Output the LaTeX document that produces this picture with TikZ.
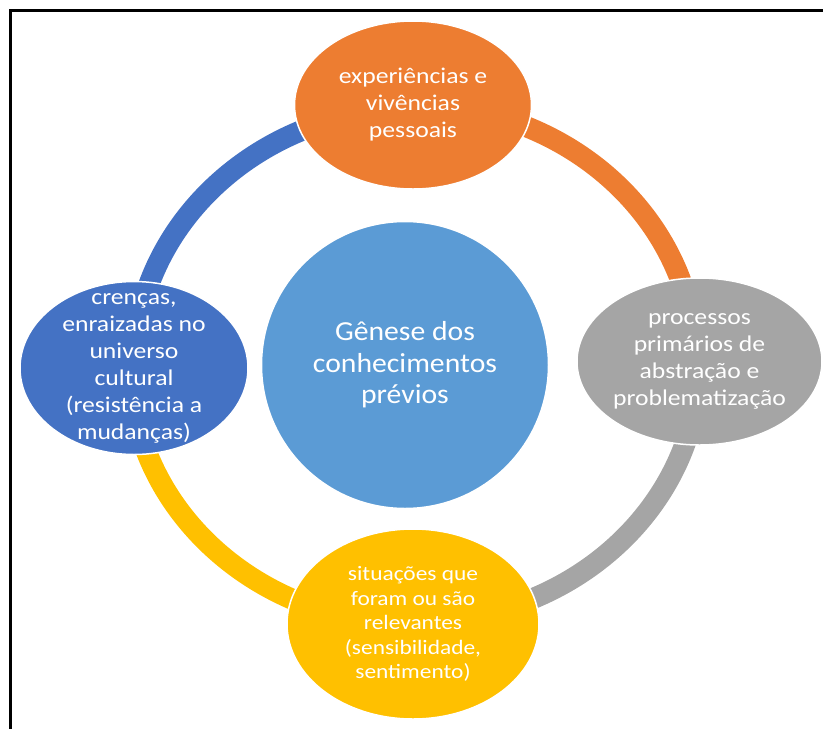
\documentclass[tikz,border=0pt]{standalone}
\usepackage{fontspec}
\setmainfont{Carlito}[FakeStretch=1.08]
\newfontfamily\widefont{Carlito}[FakeStretch=1.14]
\usetikzlibrary{shapes.geometric}
\definecolor{cOrange}{HTML}{ED7D31}
\definecolor{cGray}{HTML}{A5A5A5}
\definecolor{cYellow}{HTML}{FFC000}
\definecolor{cBlue}{HTML}{4472C4}
\definecolor{cCenter}{HTML}{5B9BD5}
\tikzset{
  bubble/.style={ellipse, draw=white, line width=1.5pt, inner sep=0pt},
  bubbletext/.style={text=white, align=center, inner sep=0pt},
  ring/.style={line width=21pt, line cap=butt},
}
\begin{document}
\begin{tikzpicture}[x=1pt, y=-1pt]
\useasboundingbox (0,0) rectangle (823,729);
% frame
\draw[line width=2.6pt] (10.5,729) -- (10.5,10.5) -- (823,10.5);

% node placement
\coordinate (pO) at (413,105);
\coordinate (pG) at (699.5,361.5);
\coordinate (pY) at (413,624);
\coordinate (pB) at (134,368);

% ring arcs (behind)
\draw[ring, cOrange] (pO) arc[start angle=-90, end angle=0, x radius=283, y radius=260];
\draw[ring, cGray] (pG) arc[start angle=0, end angle=90, x radius=283, y radius=260];
\draw[ring, cYellow] (pY) arc[start angle=90, end angle=180, x radius=283, y radius=260];
\draw[ring, cBlue] (pB) arc[start angle=180, end angle=270, x radius=283, y radius=260];

% center
\node[bubble, fill=cCenter, minimum width=287pt, minimum height=287pt] (center) at (405,365) {};
\node[bubbletext, font=\fontsize{27.5}{31.5}\selectfont] (centerText) at (center) {Gênese dos\\conhecimentos\\prévios};

% outer bubbles
\node[bubble, fill=cOrange, minimum width=237pt, minimum height=168pt] (orange) at (pO) {};
\node[bubbletext, font=\widefont\fontsize{22.5}{27}\selectfont] (orangeText) at (orange) {experiências e\\vivências\\pessoais};

\node[bubble, fill=cGray, minimum width=245pt, minimum height=167pt] (gray) at (pG) {};
\node[bubbletext, font=\widefont\fontsize{22.5}{27}\selectfont] (grayText) at (gray) {processos\\primários de\\abstração e\\problematização};

\node[bubble, fill=cYellow, minimum width=252pt, minimum height=190pt] (yellow) at (pY) {};
\node[bubbletext, font=\widefont\fontsize{20.5}{24.5}\selectfont] (yellowText) at (yellow) {situações que\\foram ou são\\relevantes\\(sensibilidade,\\sentimento)};

\node[bubble, fill=cBlue, minimum width=228pt, minimum height=173pt] (blue) at (pB) {};
\node[bubbletext, font=\widefont\fontsize{22.5}{27}\selectfont] (blueText) at (blue) {crenças,\\enraizadas no\\universo\\cultural\\(resistência a\\mudanças)};
\end{tikzpicture}
\end{document}
